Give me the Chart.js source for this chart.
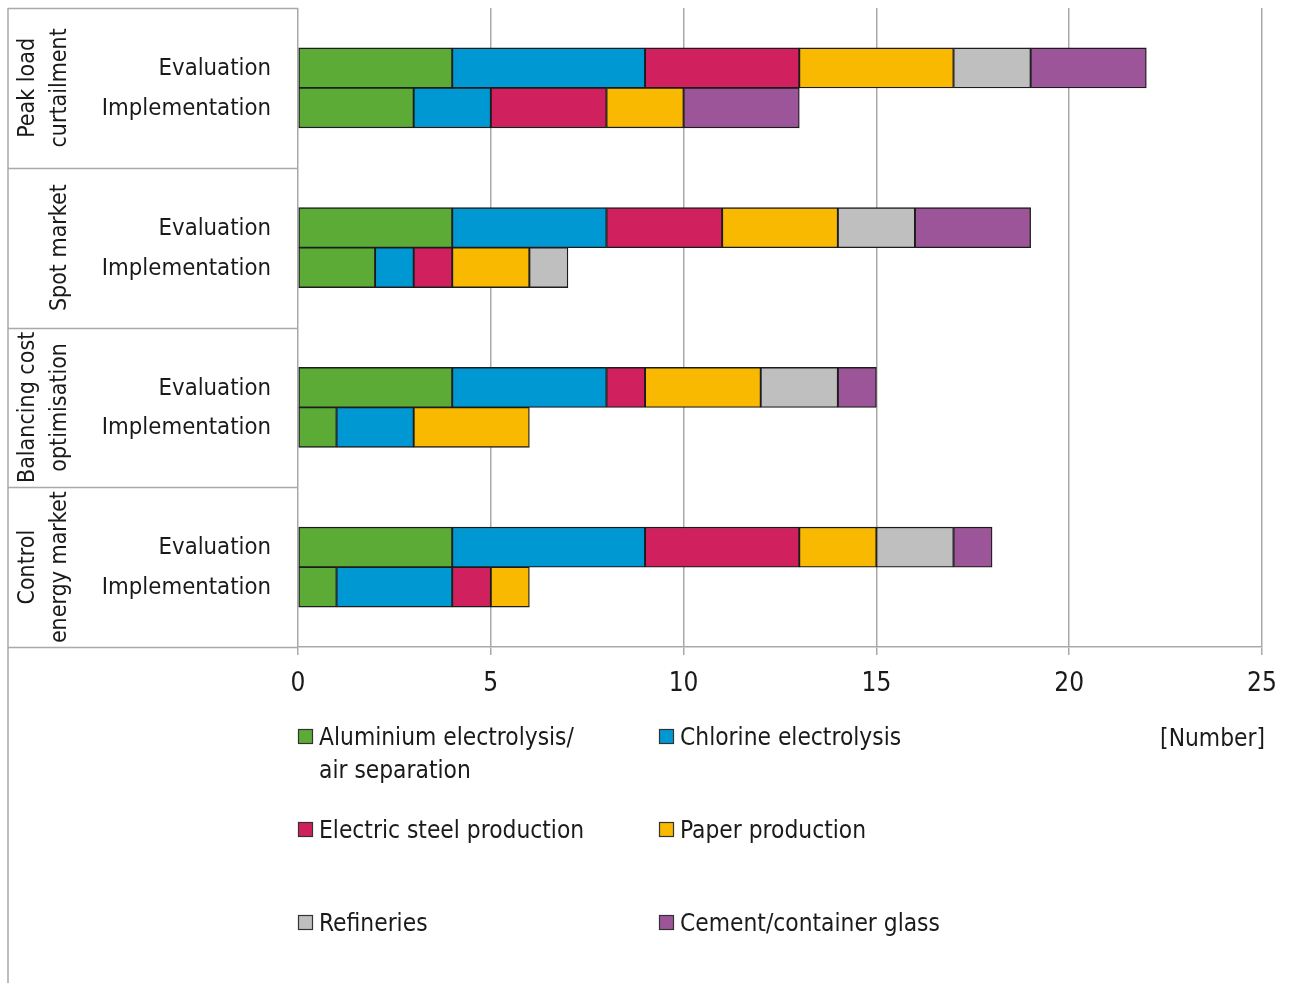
<!DOCTYPE html>
<html>
<head>
<meta charset="utf-8">
<script src="https://cdn.jsdelivr.net/npm/chart.js@4/dist/chart.umd.min.js"></script>
<style>
  html, body { margin: 0; padding: 0; background: #fff; }
  #wrap { width: 1289px; height: 983px; position: relative; }
</style>
</head>
<body>
<div id="wrap"><canvas id="chart"></canvas></div>
<script>
// Market segments (each has an Evaluation and an Implementation bar)
const groups = [
  ["Peak load", "curtailment"],
  ["", "Spot market"],
  ["Balancing cost", "optimisation"],
  ["Control", "energy market"]
];
const stages = ["Evaluation", "Implementation"];

// Number of companies per industry, bar order:
// Peak Eval, Peak Impl, Spot Eval, Spot Impl, Balancing Eval, Balancing Impl, Control Eval, Control Impl
const aluminium = [4, 3, 4, 2, 4, 1, 4, 1];
const chlorine  = [5, 2, 4, 1, 4, 2, 5, 3];
const steel     = [4, 3, 3, 1, 1, 0, 4, 1];
const paper     = [4, 2, 3, 2, 3, 3, 2, 1];
const refinery  = [2, 0, 2, 1, 2, 0, 2, 0];
const cement    = [3, 3, 3, 0, 1, 0, 1, 0];

const xTicks = [0, 5, 10, 15, 20, 25];
const unitLabel = "[Number]";

const seriesNames = [
  ["Aluminium electrolysis/", "air separation"],
  ["Chlorine electrolysis"],
  ["Electric steel production"],
  ["Paper production"],
  ["Refineries"],
  ["Cement/container glass"]
];
const seriesValues = [aluminium, chlorine, steel, paper, refinery, cement];
const seriesColors = ["#5dab37", "#0098d2", "#d0215e", "#f9b900", "#bfbfbf", "#9c5599"];

const FONT = "'DejaVu Sans Condensed', 'DejaVu Sans', sans-serif";
const TEXT = "#1a1a1a";
const LINE = "#a9a9a9";

// Each segment occupies four category slots: spacer, Evaluation, Implementation, spacer
const labels = [];
groups.forEach(() => { labels.push(""); stages.forEach(s => labels.push(s)); labels.push(""); });

function spread(values) {
  const out = [];
  for (let g = 0; g < groups.length; g++) {
    out.push(null);
    for (let s = 0; s < stages.length; s++) {
      const v = values[g * stages.length + s];
      out.push(v === 0 ? null : v);
    }
    out.push(null);
  }
  return out;
}

const datasets = seriesValues.map((vals, i) => ({
  label: seriesNames[i].join(" "),
  data: spread(vals),
  backgroundColor: seriesColors[i],
  borderColor: "#1c1c1c",
  borderWidth: 1.3,
  borderSkipped: false,
  barPercentage: 1,
  categoryPercentage: 1
}));

const sidePanel = {
  id: "sidePanel",
  afterDraw(chart) {
    const ctx = chart.ctx;
    const area = chart.chartArea;
    const yScale = chart.scales.y;
    const left = 8;
    const groupH = (area.bottom - area.top) / groups.length;
    ctx.save();

    // frame of the label column
    ctx.strokeStyle = LINE;
    ctx.lineWidth = 1.5;
    ctx.beginPath();
    ctx.moveTo(left, area.top);
    ctx.lineTo(left, chart.height);
    for (let g = 0; g <= groups.length; g++) {
      const y = Math.round(area.top + g * groupH) + 0.5;
      ctx.moveTo(left, y);
      ctx.lineTo(area.left, y);
    }
    ctx.stroke();

    // stage labels
    ctx.fillStyle = TEXT;
    ctx.font = "23.7px " + FONT;
    ctx.textAlign = "right";
    ctx.textBaseline = "middle";
    labels.forEach((lab, i) => {
      if (!lab) return;
      ctx.fillText(lab, 271, yScale.getPixelForValue(i) + 1);
    });

    // rotated segment labels
    ctx.font = "23px " + FONT;
    ctx.textAlign = "center";
    ctx.textBaseline = "alphabetic";
    const baselines = [34, 66];
    groups.forEach((lines, g) => {
      const cy = area.top + (g + 0.5) * groupH;
      lines.forEach((txt, k) => {
        if (!txt) return;
        ctx.save();
        ctx.translate(baselines[k], cy);
        ctx.rotate(-Math.PI / 2);
        ctx.fillText(txt, 0, 0);
        ctx.restore();
      });
    });

    // legend
    const cols = [298, 659];
    const rows = [745, 838, 931];
    ctx.font = "24.3px " + FONT;
    ctx.textAlign = "left";
    seriesNames.forEach((lines, i) => {
      const x = cols[i % 2];
      const y = rows[Math.floor(i / 2)];
      ctx.fillStyle = seriesColors[i];
      ctx.fillRect(x + 0.5, y - 15.5, 14, 14);
      ctx.strokeStyle = "#333";
      ctx.lineWidth = 1.2;
      ctx.strokeRect(x + 0.5, y - 15.5, 14, 14);
      ctx.fillStyle = TEXT;
      lines.forEach((t, k) => ctx.fillText(t, x + 21, y + k * 33));
    });

    ctx.textAlign = "right";
    ctx.fillText(unitLabel, 1265, 746);
    ctx.restore();
  }
};

new Chart(document.getElementById("chart"), {
  type: "bar",
  data: { labels, datasets },
  options: {
    indexAxis: "y",
    responsive: true,
    maintainAspectRatio: false,
    animation: false,
    layout: { padding: { left: 298, top: 8, right: 27, bottom: 0 } },
    plugins: { legend: { display: false }, tooltip: { enabled: false } },
    scales: {
      x: {
        stacked: true,
        min: xTicks[0],
        max: xTicks[xTicks.length - 1],
        afterBuildTicks(scale) { scale.ticks = xTicks.map(v => ({ value: v })); },
        afterFit(scale) {
          scale.height = 336;
          scale.paddingLeft = 0;
          scale.paddingRight = 0;
        },
        grid: { color: LINE, lineWidth: 1.5, tickLength: 8, drawOnChartArea: true },
        border: { display: true, color: LINE, width: 1.5 },
        ticks: { color: TEXT, font: { family: FONT, size: 26 }, padding: 14 }
      },
      y: {
        stacked: true,
        afterFit(scale) { scale.width = 0; },
        grid: { display: false },
        border: { display: false },
        ticks: { display: false }
      }
    }
  },
  plugins: [sidePanel]
});
</script>
</body>
</html>
